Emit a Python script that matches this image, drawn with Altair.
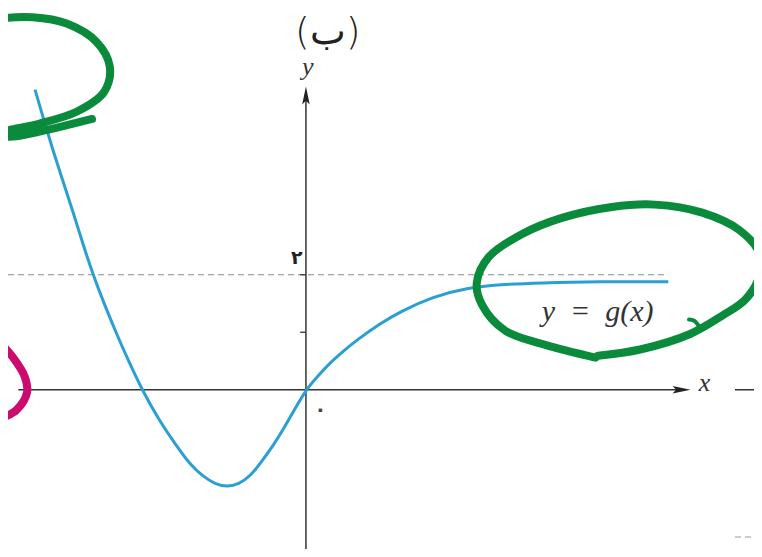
import altair as alt
import pandas as pd

# ---- coordinate frame (data units; 1 unit on both axes) ----
X_MIN, X_MAX = -5.18, 7.79
Y_MIN, Y_MAX = -2.77, 6.64

# ---- curve y = g(x) ----
curve_x = [-4.71, -4.56, -4.40, -4.23, -4.05, -3.88, -3.70, -3.51, -3.30, -3.08,
           -2.85, -2.56, -2.24, -2.02, -1.79, -1.58, -1.37, -1.17, -0.97, -0.75,
           -0.57, -0.40, -0.19, 0.0, 0.21, 0.42, 0.66, 0.89, 1.29, 1.64,
           2.21, 2.80, 3.37, 4.07, 5.11, 6.30]
curve_y = [5.22, 4.70, 4.17, 3.64, 3.10, 2.54, 2.00, 1.50, 0.99, 0.49,
           0.0, -0.52, -0.99, -1.29, -1.51, -1.64, -1.69, -1.64, -1.51, -1.22,
           -0.97, -0.70, -0.33, 0.0, 0.24, 0.47, 0.68, 0.87, 1.15, 1.36,
           1.62, 1.77, 1.83, 1.86, 1.88, 1.88]

asymptote_y = 2
asymptote_end = 6.30
ticks_y = [1, 2]
tick_labels = ["\u06f2"]          # ۲
tick_label_y = [2.30]
origin_label = "\u06f0"           # ۰

# ---- hand-drawn annotation strokes ----
green1_x = [-5.50, -5.32, -4.75, -4.16, -3.64, -3.41, -3.51, -3.98, -4.63, -5.15,
            -5.46, -5.15, -4.63, -3.72]
green1_y = [6.40, 6.45, 6.48, 6.37, 6.05, 5.62, 5.18, 4.84, 4.63, 4.52,
            4.45, 4.40, 4.49, 4.71]
green2_x = [5.08, 5.81, 6.68, 7.24, 7.64, 7.88, 7.88, 7.53, 6.89, 6.07,
            5.32, 4.45, 3.76, 3.18, 2.97, 3.06, 3.46, 4.16, 5.03]
green2_y = [0.59, 0.70, 0.97, 1.29, 1.57, 1.97, 2.38, 2.78, 3.08, 3.22,
            3.18, 2.99, 2.71, 2.31, 1.86, 1.48, 1.03, 0.78, 0.56]
hook_x = [6.85, 6.75, 6.66]
hook_y = [1.08, 1.20, 1.22]
magenta_x = [-5.41, -5.32, -5.10, -4.89, -4.85, -5.03, -5.32, -5.43]
magenta_y = [0.90, 0.82, 0.57, 0.23, -0.05, -0.35, -0.52, -0.61]

BLUE = "#2a9fd3"
GREEN = "#0a8a3b"
MAGENTA = "#cc0b6f"
AXIS = "#333333"

xs = alt.Scale(domain=[X_MIN, X_MAX], nice=False, zero=False)
ys = alt.Scale(domain=[Y_MIN, Y_MAX], nice=False, zero=False)


def enc_xy(xf="x", yf="y"):
    return dict(x=alt.X(f"{xf}:Q", scale=xs, axis=None),
                y=alt.Y(f"{yf}:Q", scale=ys, axis=None))


# curve
curve_df = pd.DataFrame({"x": curve_x, "y": curve_y, "i": range(len(curve_x))})
curve = alt.Chart(curve_df).mark_line(
    color=BLUE, strokeWidth=3, interpolate="basis", clip=True
).encode(order="i:Q", **enc_xy())

# dashed asymptote
asym_df = pd.DataFrame({"x": [X_MIN], "x2": [asymptote_end], "y": [asymptote_y]})
asym = alt.Chart(asym_df).mark_rule(
    color="#8a8a8a", strokeWidth=1.1, strokeDash=[6, 4]
).encode(x=alt.X("x:Q", scale=xs, axis=None), x2="x2:Q",
         y=alt.Y("y:Q", scale=ys, axis=None))

# axes lines
xaxis_df = pd.DataFrame({"x": [-5.0, 7.46], "x2": [6.45, X_MAX], "y": [0, 0]})
xaxis = alt.Chart(xaxis_df).mark_rule(color=AXIS, strokeWidth=1.5).encode(
    x=alt.X("x:Q", scale=xs, axis=None), x2="x2:Q",
    y=alt.Y("y:Q", scale=ys, axis=None))
yaxis_df = pd.DataFrame({"y": [Y_MIN], "y2": [5.05], "x": [0]})
yaxis = alt.Chart(yaxis_df).mark_rule(color=AXIS, strokeWidth=1.5).encode(
    y=alt.Y("y:Q", scale=ys, axis=None), y2="y2:Q",
    x=alt.X("x:Q", scale=xs, axis=None))

# next-panel dashed fragment bottom right
frag_df = pd.DataFrame({"x": [7.46], "x2": [X_MAX], "y": [-2.56]})
frag = alt.Chart(frag_df).mark_rule(
    color="#9a9a9a", strokeWidth=1.1, strokeDash=[6, 4]
).encode(x=alt.X("x:Q", scale=xs, axis=None), x2="x2:Q",
         y=alt.Y("y:Q", scale=ys, axis=None))

# tick marks on y axis
tick_df = pd.DataFrame({"x": [-0.1] * len(ticks_y), "x2": [0.0] * len(ticks_y), "y": ticks_y})
ticks = alt.Chart(tick_df).mark_rule(color=AXIS, strokeWidth=1.3).encode(
    x=alt.X("x:Q", scale=xs, axis=None), x2="x2:Q",
    y=alt.Y("y:Q", scale=ys, axis=None))

# arrow heads
arr_x = alt.Chart(pd.DataFrame({"x": [6.53], "y": [0]})).mark_point(
    shape="M-1,-0.42L1,0L-1,0.42L-0.6,0Z", filled=True, size=324,
    color="#222222", opacity=1
).encode(**enc_xy())
arr_y = alt.Chart(pd.DataFrame({"x": [0], "y": [5.12]})).mark_point(
    shape="M-0.42,1L0,-1L0.42,1L0,0.6Z", filled=True, size=324,
    color="#222222", opacity=1
).encode(**enc_xy())

# annotation strokes
strokes = []
for sid, (sx, sy) in enumerate([(green1_x, green1_y), (green2_x, green2_y)]):
    for k, (a, b) in enumerate(zip(sx, sy)):
        strokes.append({"s": sid, "k": k, "x": a, "y": b})
green_df = pd.DataFrame(strokes)
green = alt.Chart(green_df).mark_line(
    color=GREEN, strokeWidth=8, strokeCap="round", strokeJoin="round",
    interpolate="catmull-rom", clip=True
).encode(detail="s:N", order="k:Q", **enc_xy())

hook_df = pd.DataFrame({"x": hook_x, "y": hook_y, "k": range(len(hook_x))})
hook = alt.Chart(hook_df).mark_line(
    color=GREEN, strokeWidth=4, strokeCap="round", strokeJoin="round",
    interpolate="catmull-rom", clip=True
).encode(order="k:Q", **enc_xy())

mag_df = pd.DataFrame({"x": magenta_x, "y": magenta_y, "k": range(len(magenta_x))})
magenta = alt.Chart(mag_df).mark_line(
    color=MAGENTA, strokeWidth=8, strokeCap="round", strokeJoin="round",
    interpolate="catmull-rom", clip=True
).encode(order="k:Q", **enc_xy())

# texts
title = alt.Chart(pd.DataFrame({"x": [0.38], "y": [6.20], "t": ["(\u0628)"]})).mark_text(
    font="DejaVu Sans", fontSize=38, fontWeight=300, color="#222222",
    baseline="middle", align="center"
).encode(text="t:N", **enc_xy())

axlab_df = pd.DataFrame({"x": [0.03, 6.93], "y": [5.62, 0.12], "t": ["y", "x"]})
axlab = alt.Chart(axlab_df).mark_text(
    font="Liberation Serif", fontStyle="italic", fontSize=26, color="#333333",
    baseline="middle", align="center"
).encode(text="t:N", **enc_xy())

fn_df = pd.DataFrame({"x": [5.07], "y": [1.36], "t": ["y\u00a0\u00a0=\u00a0\u00a0g(x)"]})
fn = alt.Chart(fn_df).mark_text(
    font="Liberation Serif", fontStyle="italic", fontSize=30, color="#333333",
    baseline="middle", align="center"
).encode(text="t:N", **enc_xy())

lab_df = pd.DataFrame({"x": [-0.16], "y": tick_label_y, "t": tick_labels})
labs = alt.Chart(lab_df).mark_text(
    font="DejaVu Sans", fontSize=19, fontWeight="bold", color="#222222",
    baseline="middle", align="center"
).encode(text="t:N", **enc_xy())

orig = alt.Chart(pd.DataFrame({"x": [0.25], "y": [-0.36], "t": [origin_label]})).mark_text(
    font="DejaVu Sans", fontSize=20, fontWeight="bold", color="#444444",
    baseline="middle", align="center"
).encode(text="t:N", **enc_xy())

chart = alt.layer(
    asym, frag, xaxis, yaxis, ticks, arr_x, arr_y, curve,
    axlab, fn, labs, orig, title, green, hook, magenta
).properties(
    width=746, height=541, padding=0,
    autosize=alt.AutoSizeParams(type="none"),
    background="white"
).configure_view(stroke=None)

chart.save("out.html", embed_options={"renderer": "svg", "actions": False})
